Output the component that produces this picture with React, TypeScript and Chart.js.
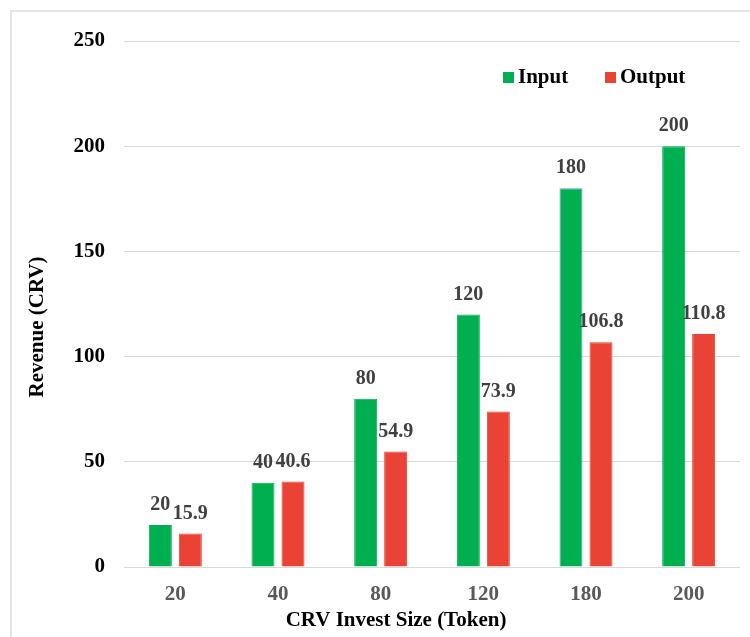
import React, { useEffect, useRef } from "react";
import { Chart, registerables } from "chart.js";

Chart.register(...registerables);

const categories = ["20", "40", "80", "120", "180", "200"];
const inputValues = [20, 40, 80, 120, 180, 200];
const outputValues = [15.9, 40.6, 54.9, 73.9, 106.8, 110.8];
const inputLabels = ["20", "40", "80", "120", "180", "200"];
const outputLabels = ["15.9", "40.6", "54.9", "73.9", "106.8", "110.8"];
const yTicks = [0, 50, 100, 150, 200, 250];

const GREEN = "#00B050";
const RED = "#EA4335";
const FONT = "'Liberation Serif', 'Times New Roman', serif";

const valueLabelPlugin = {
  id: "valueLabels",
  afterDatasetsDraw(chart: any) {
    const ctx = chart.ctx;
    const texts = [inputLabels, outputLabels];
    ctx.save();
    ctx.font = `bold 20px ${FONT}`;
    ctx.fillStyle = "#404040";
    ctx.textAlign = "center";
    ctx.textBaseline = "middle";
    chart.data.datasets.forEach((_ds: any, di: number) => {
      const meta = chart.getDatasetMeta(di);
      meta.data.forEach((el: any, i: number) => {
        ctx.fillText(texts[di][i], el.x, el.y - 20);
      });
    });
    ctx.restore();
  },
};

const axisTitlePlugin = {
  id: "axisTitles",
  afterDraw(chart: any) {
    const ctx = chart.ctx;
    ctx.save();
    ctx.font = `bold 21px ${FONT}`;
    ctx.fillStyle = "#000000";
    ctx.textAlign = "center";
    ctx.textBaseline = "middle";
    ctx.fillText("CRV Invest Size (Token)", 396, 621);
    ctx.translate(38, 327);
    ctx.rotate(-Math.PI / 2);
    ctx.fillText("Revenue (CRV)", 0, 0);
    ctx.restore();
  },
};

const legendStarts = [503, 605];

const legendPlugin = {
  id: "customLegend",
  afterDraw(chart: any) {
    const ctx = chart.ctx;
    ctx.save();
    ctx.font = `bold 21px ${FONT}`;
    ctx.textAlign = "left";
    ctx.textBaseline = "middle";
    chart.data.datasets.forEach((ds: any, i: number) => {
      const x = legendStarts[i];
      const cy = 77.5;
      ctx.fillStyle = ds.backgroundColor;
      ctx.fillRect(x, cy - 5.5, 11, 11);
      ctx.fillStyle = "#000000";
      ctx.fillText(ds.label, x + 15, cy);
    });
    ctx.restore();
  },
};

export default function App() {
  const ref = useRef<HTMLCanvasElement>(null);

  useEffect(() => {
    if (!ref.current) return;
    const chart = new Chart(ref.current, {
      type: "bar",
      data: {
        labels: categories,
        datasets: [
          {
            label: "Input",
            data: inputValues,
            backgroundColor: GREEN,
            borderColor: inputValues.map((_v, i) => (i === 4 ? "#5B9BD5" : GREEN)),
            borderWidth: 1,
            categoryPercentage: 0.584,
            barPercentage: 0.767,
          },
          {
            label: "Output",
            data: outputValues,
            backgroundColor: RED,
            borderColor: RED,
            borderWidth: 1,
            categoryPercentage: 0.584,
            barPercentage: 0.767,
          },
        ],
      },
      options: {
        responsive: false,
        animation: false,
        layout: { padding: { left: 0, top: 41, right: 10, bottom: 0 } },
        plugins: {
          legend: { display: false },
          tooltip: { enabled: false },
        },
        scales: {
          x: {
            grid: { display: false, drawTicks: false },
            border: { display: false },
            ticks: {
              color: "#595959",
              padding: 15,
              font: { family: FONT, size: 21, weight: "bold" },
            },
            afterFit(s: any) {
              s.height = 70;
            },
          },
          y: {
            min: 0,
            max: 250,
            afterBuildTicks(s: any) {
              s.ticks = yTicks.map((v) => ({ value: v }));
            },
            grid: { color: "#D9D9D9", lineWidth: 1, drawTicks: false },
            border: { display: false },
            ticks: {
              color: "#000000",
              padding: 19,
              font: { family: FONT, size: 21, weight: "bold" },
            },
            afterFit(s: any) {
              s.width = 124;
            },
          },
        },
      },
      plugins: [valueLabelPlugin, axisTitlePlugin, legendPlugin],
    });
    return () => chart.destroy();
  }, []);

  return (
    <div
      style={{
        position: "absolute",
        left: 0,
        top: 0,
        width: 750,
        height: 637,
        background: "#ffffff",
        overflow: "hidden",
      }}
    >
      <div
        style={{
          position: "absolute",
          left: 10,
          top: 10,
          width: 760,
          height: 660,
          borderLeft: "2px solid #E6E6E6",
          borderTop: "2px solid #E6E6E6",
        }}
      />
      <canvas
        ref={ref}
        width={750}
        height={637}
        style={{ position: "absolute", left: 0, top: 0 }}
      />
    </div>
  );
}
